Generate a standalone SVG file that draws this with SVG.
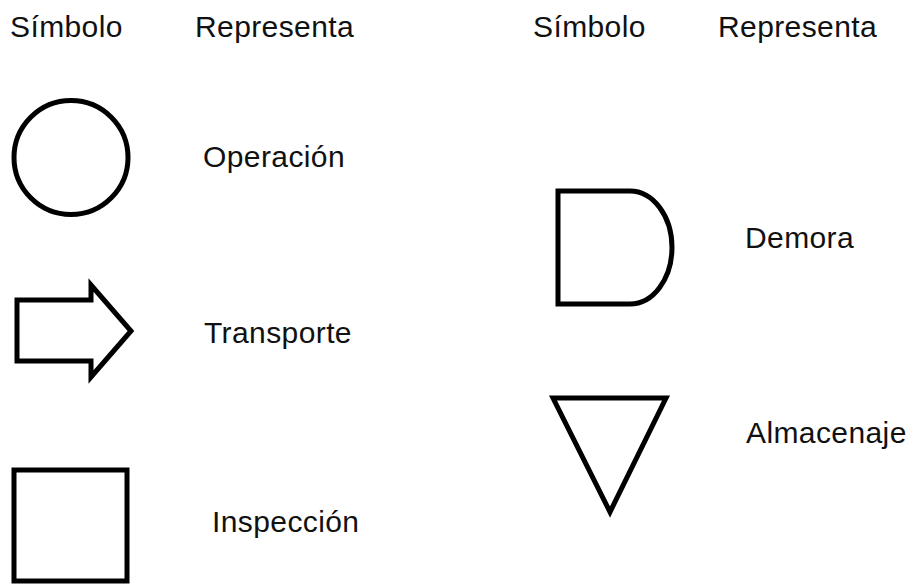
<svg xmlns="http://www.w3.org/2000/svg" width="913" height="585" viewBox="0 0 913 585">
<style>
.t{font-family:"Liberation Sans",Arial,sans-serif;font-size:30px;letter-spacing:0.4px;fill:#111}
.s{fill:none;stroke:#000;stroke-width:5;stroke-linejoin:miter}
</style>
<rect width="913" height="585" fill="#fff"/>
<g id="headers">
<text class="t" x="10" y="37">Símbolo</text>
<text class="t" x="195" y="37">Representa</text>
<text class="t" x="533" y="37">Símbolo</text>
<text class="t" x="718" y="37">Representa</text>
</g>
<g id="operacion">
<circle class="s" cx="71" cy="157.5" r="57"/>
<text class="t" x="203" y="167">Operación</text>
</g>
<g id="transporte">
<path class="s" d="M17,300 H91 V285 L131,331 L91,377 V361 H17 Z"/>
<text class="t" x="204" y="343">Transporte</text>
</g>
<g id="inspeccion">
<rect class="s" x="14" y="470" width="113" height="111"/>
<text class="t" x="212" y="532">Inspección</text>
</g>
<g id="demora">
<path class="s" d="M558,191 H630 A42,56.5 0 0 1 630,304 H558 Z"/>
<text class="t" x="745" y="248">Demora</text>
</g>
<g id="almacenaje">
<path class="s" d="M553,398 H666 L610,512 Z"/>
<text class="t" x="746" y="443">Almacenaje</text>
</g>
</svg>
